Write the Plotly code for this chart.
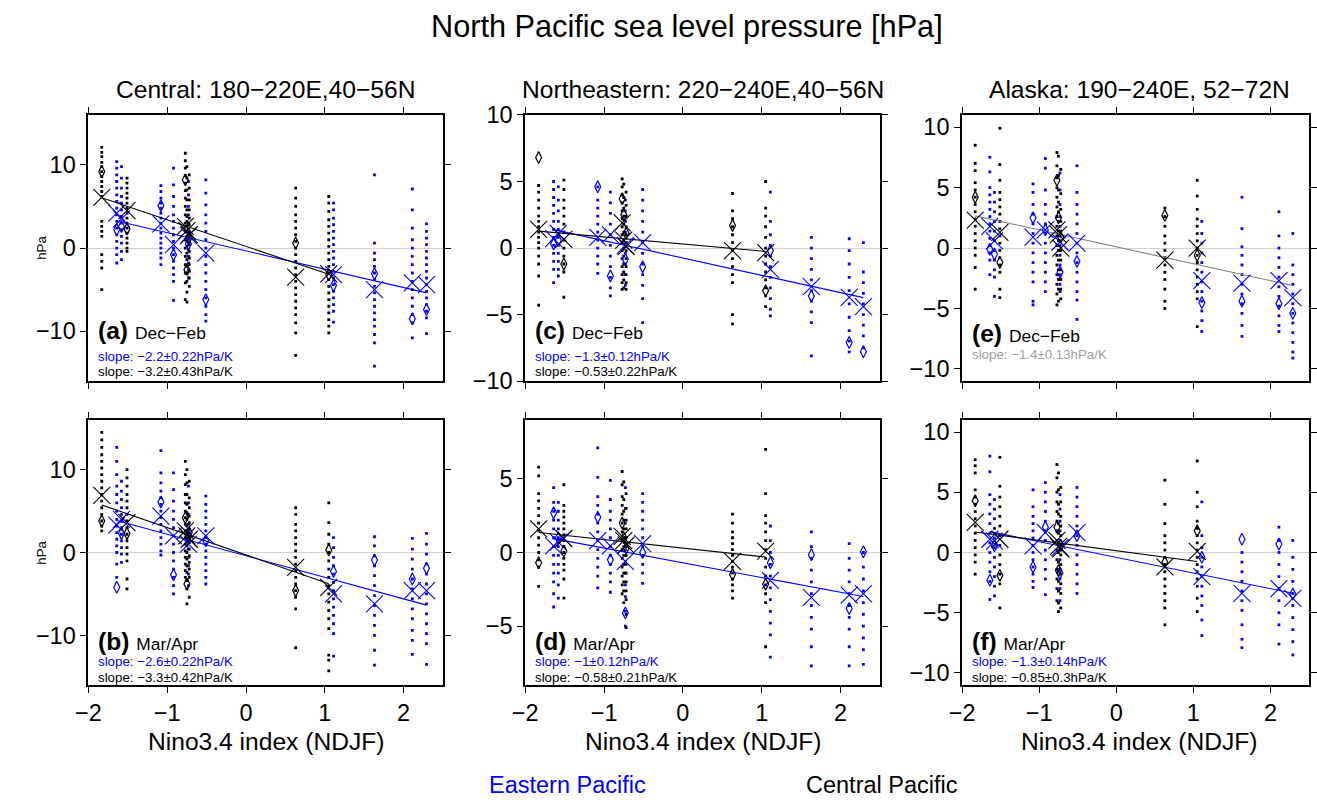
import plotly.graph_objects as go

W, H = 1317, 811              # page / figure size
BORDER = 12                   # border the photograph adds around the window
SX = W / (W + 2 * BORDER)     # resulting shrink of the photograph
SY = H / (H + 2 * BORDER)
FS = 2.0 / (SX + SY)          # font compensation for that shrink
FONT = "Liberation Sans, Arial, sans-serif"
BLUE = "#0000ff"
BLACK = "#000000"
GREY_LINE = "#808080"
GREY_TEXT = "#a0a0a0"

# ---------------- event positions (Nino3.4 index) ----------------
cp_x = [-1.83, -1.51, -0.77, -0.75, -0.72, 0.63, 1.05]
ep_x = [-1.64, -1.58, -1.08, -0.92, -0.73, -0.51, 1.11, 1.63, 2.11, 2.29]

# ---------------- panel (a) Central, Dec-Feb ----------------
a_cp_mean = [6.1, 4.5, 2.6, 2.1, 1.6, -3.5, -3.1]
a_cp_obs = [9.2, 2.3, 8.2, -2.6, 1.3, 0.6, -3.2]
a_cp_members = [
    [12.1, 11.5, 11.0, 10.3, 9.8, 9.2, 8.6, 8.0, 7.4, 6.8, 6.2, 3.2, 2.6, 2.0, 1.4, -0.8, -1.6, -2.4, -5.0],
    [8.4, 7.8, 7.2, 6.6, 6.0, 5.4, 4.8, 4.2, 3.6, 3.0, 2.4, 1.8, 1.2, 0.6, 0.0, -0.4],
    [11.4, 10.5, 9.6, 8.7, 7.8, 6.9, 6.0, 5.0, 4.0, 3.0, 2.0, 1.0, 0.0, -1.0, -2.0, -3.0, -4.2, -6.2],
    [9.8, 8.4, 7.0, 5.8, 4.6, 3.8, 3.2, 2.6, 2.0, 1.4, 0.8, 0.2, -0.6, -1.4, -2.2, -3.0, -4.0, -5.3, -6.5],
    [8.8, 7.2, 5.8, 4.6, 3.6, 2.8, 2.0, 1.2, 0.4, -0.4, -1.2, -2.0, -2.8, -3.6, -4.6],
    [7.2, 6.0, 5.0, 4.0, 3.2, 2.4, 1.6, 0.8, 0.0, -0.8, -1.6, -2.4, -3.2, -4.0, -4.8, -5.6, -6.4, -7.2, -8.0, -9.0, -10.2, -12.9],
    [6.2, 5.4, 4.4, 3.4, 2.6, 1.8, 1.0, 0.2, -0.6, -1.4, -2.2, -3.0, -3.8, -4.6, -5.4, -6.2, -7.0, -7.8, -8.6, -9.4, -10.2],
]
a_ep_mean = [4.2, 3.5, 2.9, 0.4, 1.5, -0.6, -3.2, -5.0, -4.2, -4.4]
a_ep_obs = [2.2, 2.6, 5.1, -0.8, 0.5, -6.2, -4.5, -3.1, -8.5, -7.4]
a_ep_members = [
    [10.4, 9.6, 8.8, 8.0, 7.2, 6.4, 5.6, 4.8, 4.0, 3.2, 2.4, 1.6, 0.8, 0.0, -0.8, -1.8],
    [9.8, 8.4, 7.2, 6.2, 5.4, 4.6, 3.8, 3.0, 2.2, 1.4, 0.6, -0.4, -1.4],
    [7.5, 6.8, 6.0, 5.4, 4.8, 4.2, 3.6, 3.0, 2.4, 1.8, 1.2, 0.6, 0.0, -0.6, -1.2, -2.0],
    [9.6, 7.6, 6.2, 5.0, 4.0, 3.2, 2.4, 1.6, 0.8, 0.0, -0.8, -1.6, -2.4, -3.2, -4.0, -6.3],
    [8.0, 6.4, 5.0, 4.0, 3.0, 2.2, 1.4, 0.6, -0.2, -1.0, -1.8, -2.6, -3.6],
    [8.2, 6.6, 5.2, 4.0, 3.0, 2.0, 1.0, 0.0, -1.0, -2.0, -3.0, -4.0, -5.0, -6.0, -7.0, -8.0, -8.8],
    [5.4, 4.6, 3.6, 2.8, 2.0, 1.2, 0.4, -0.4, -1.2, -2.0, -2.8, -3.6, -4.4, -5.2, -6.0, -6.8, -7.6, -8.9],
    [8.8, 0.6, -0.6, -1.4, -2.2, -3.0, -3.8, -4.6, -5.4, -6.2, -7.0, -7.8, -8.6, -9.4, -10.4, -11.4, -14.2],
    [7.1, 4.6, 2.4, 1.0, 0.0, -1.0, -2.0, -3.0, -4.0, -5.0, -6.0, -7.0, -8.0, -9.0, -10.8],
    [2.9, 2.0, 1.2, 0.4, -0.4, -1.2, -2.0, -2.8, -3.6, -4.4, -5.2, -6.0, -6.8, -7.6, -8.4, -10.3],
]

# ---------------- panel (b) Central, Mar/Apr ----------------
b_cp_mean = [6.9, 3.6, 2.6, 2.0, 1.6, -1.8, -4.2]
b_cp_obs = [3.8, 2.3, 4.2, -3.8, 2.4, -4.6, 0.3]
b_cp_members = [
    [14.5, 13.6, 12.7, 11.8, 11.0, 10.2, 9.4, 8.6, 7.8, 7.0, 6.2, 5.4, 4.6, 3.8, 3.2, 2.6],
    [10.0, 9.0, 8.0, 7.0, 6.2, 5.4, 4.6, 3.8, 3.0, 2.2, 1.4, 0.6, -0.2, -1.0, -3.2, -4.4],
    [11.0, 9.4, 8.2, 7.0, 6.0, 5.0, 4.2, 3.4, 2.6, 1.8, 1.0, 0.2, -0.6, -1.4, -2.2, -3.0],
    [10.0, 8.4, 7.0, 5.8, 4.8, 4.0, 3.2, 2.4, 1.6, 0.8, 0.0, -0.8, -1.6, -2.4, -3.4, -4.4, -6.2],
    [8.6, 6.6, 5.4, 4.4, 3.6, 2.8, 2.0, 1.2, 0.4, -0.4, -1.2, -2.0, -3.0, -5.4],
    [5.4, 4.6, 3.4, 2.6, 1.8, 1.0, 0.2, -0.6, -1.4, -2.2, -3.0, -3.8, -4.6, -5.4, -6.8, -11.5],
    [6.0, 3.6, 2.2, 1.0, 0.0, -1.0, -2.0, -3.0, -4.0, -5.0, -6.0, -7.0, -8.0, -9.2, -12.4, -13.0, -14.3],
]
b_ep_mean = [3.3, 4.0, 4.4, 2.0, 1.0, 2.0, -5.0, -6.2, -4.6, -4.6]
b_ep_obs = [-4.2, 2.3, 6.1, -2.7, 2.0, 1.4, -2.3, -0.9, -3.2, -1.9]
b_ep_members = [
    [12.7, 11.0, 9.4, 8.0, 7.0, 6.0, 5.0, 4.0, 3.2, 2.4, 1.6, 0.8, 0.0, -1.4, -3.0],
    [8.6, 7.4, 6.4, 5.4, 4.6, 3.8, 3.0, 2.2, 1.4, 0.6, -0.2, -1.2],
    [12.3, 9.6, 8.4, 7.4, 6.6, 5.8, 5.0, 4.2, 3.4, 2.6, 1.8, 1.0, 0.2, -0.3],
    [9.6, 7.6, 6.2, 5.0, 4.0, 3.0, 2.0, 1.0, 0.0, -1.0, -2.0, -3.0, -4.0, -5.0],
    [8.0, 6.0, 4.6, 3.4, 2.4, 1.4, 0.4, -0.6, -1.6, -2.6, -4.0],
    [6.8, 5.8, 5.0, 4.2, 3.4, 2.6, 1.8, 1.0, 0.2, -0.6, -1.4, -2.2, -3.0, -3.8],
    [1.8, 0.6, -0.6, -1.6, -2.6, -3.6, -4.6, -5.6, -6.6, -7.6, -8.6, -9.8, -12.5],
    [1.9, 0.8, -0.4, -1.6, -2.8, -4.0, -5.2, -6.4, -7.6, -8.8, -10.0, -11.8, -13.6],
    [1.7, 0.4, -0.8, -2.0, -3.2, -4.4, -5.6, -6.8, -8.0, -9.4, -10.6, -12.3],
    [2.3, 1.0, -0.2, -1.4, -2.6, -3.8, -5.0, -6.2, -7.4, -8.6, -9.8, -11.0, -13.5],
]

# ---------------- panel (c) Northeastern, Dec-Feb ----------------
c_cp_mean = [1.4, 0.65, 1.9, 0.6, 0.1, -0.2, -0.35]
c_cp_obs = [6.8, -1.2, 3.7, 2.5, 1.1, 1.7, -3.2]
c_cp_members = [
    [4.7, 4.2, 3.6, 3.0, 2.4, 2.0, 1.6, 1.2, 0.8, 0.4, 0.0, -0.6, -1.2, -2.1, -4.3],
    [5.1, 4.4, 3.6, 3.0, 2.4, 1.8, 1.2, 0.6, 0.0, -0.6, -1.2, -1.8, -3.7],
    [5.2, 4.6, 4.0, 3.4, 2.8, 2.2, 1.6, 1.0, 0.4, -0.2, -0.8, -1.4, -2.0, -2.6, -3.1],
    [4.8, 3.8, 3.0, 2.4, 1.8, 1.2, 0.6, 0.0, -0.6, -1.2, -1.8, -2.4, -3.0],
    [4.2, 3.2, 2.4, 1.6, 1.0, 0.4, -0.2, -0.8, -1.4, -2.0, -2.6, -3.1],
    [4.1, 2.8, 2.2, 1.6, 1.0, 0.4, -0.2, -0.8, -1.4, -2.0, -2.6, -5.0, -5.7],
    [5.0, 3.0, 2.4, 1.6, 0.8, 0.0, -0.6, -1.2, -1.8, -2.4, -3.0, -3.6, -4.4],
]
c_ep_mean = [0.7, 1.1, 0.8, 1.0, 0.2, 0.4, -1.6, -2.9, -3.7, -4.4]
c_ep_obs = [0.3, 0.6, 4.6, -2.1, -0.85, -1.4, -0.2, -3.6, -7.1, -7.8]
c_ep_members = [
    [5.0, 4.4, 3.8, 3.2, 2.6, 2.0, 1.4, 0.8, 0.2, -0.4, -1.0, -1.6, -2.6],
    [4.6, 3.6, 2.8, 2.0, 1.4, 0.8, 0.2, -0.4, -1.0, -1.6, -2.1],
    [4.6, 3.6, 3.0, 2.4, 1.8, 1.2, 0.6, 0.0, -0.6, -1.2, -1.9],
    [4.2, 3.4, 2.6, 1.8, 1.0, 0.2, -0.6, -1.4, -2.2, -3.0, -3.6],
    [3.6, 2.8, 2.0, 1.2, 0.4, -0.4, -1.2, -2.0, -2.8],
    [4.4, 3.6, 2.8, 2.0, 1.2, 0.4, -0.4, -1.2, -2.0, -2.8, -3.8, -5.6],
    [4.2, 2.0, 1.0, 0.2, -0.6, -1.4, -2.2, -3.0, -3.8, -4.6, -5.1],
    [0.8, 0.0, -0.8, -1.6, -2.4, -3.2, -4.0, -4.8, -5.6, -8.1],
    [0.7, -0.2, -1.2, -2.2, -3.2, -4.2, -5.2, -6.2, -7.0, -7.8],
    [0.4, -1.8, -2.6, -3.4, -4.2, -5.0, -5.8, -6.6, -7.5],
]

# ---------------- panel (d) Northeastern, Mar/Apr ----------------
d_cp_mean = [1.6, 0.95, 1.1, 0.8, 0.5, -0.6, 0.1]
d_cp_obs = [-0.7, 0.1, 2.0, 1.0, 0.3, -1.5, -2.15]
d_cp_members = [
    [5.8, 5.2, 4.0, 3.5, 3.0, 2.5, 2.0, 1.5, 1.0, 0.5, 0.0, -0.5, -1.0, -2.3],
    [4.6, 3.2, 2.8, 2.4, 2.0, 1.6, 1.2, 0.8, 0.4, 0.0, -0.4, -0.8, -1.2, -1.8, -3.1],
    [5.5, 4.6, 3.8, 3.2, 2.6, 2.0, 1.4, 0.8, 0.2, -0.4, -1.0, -1.6, -2.2, -2.8],
    [4.8, 3.6, 2.8, 2.2, 1.6, 1.0, 0.4, -0.2, -0.8, -1.4, -2.0, -2.6, -3.4],
    [4.0, 3.0, 2.2, 1.6, 1.0, 0.4, -0.2, -0.8, -1.4, -2.0, -2.6, -3.2, -4.2, -5.1],
    [2.6, 2.0, 1.4, 1.0, 0.6, 0.2, -0.2, -0.6, -1.0, -1.4, -1.8, -2.2, -2.6, -3.1],
    [7.0, 4.0, 2.5, 2.0, 1.4, 0.8, 0.2, -0.4, -1.0, -1.6, -2.2, -2.8, -3.4, -6.4],
]
d_ep_mean = [0.45, 0.7, 0.8, 0.45, -0.6, 0.6, -1.9, -3.05, -2.9, -2.8]
d_ep_obs = [2.7, 1.0, 2.4, -0.5, -4.1, 0.0, -0.7, -0.15, -3.8, 0.05]
d_ep_members = [
    [4.4, 3.4, 2.8, 2.2, 1.6, 1.0, 0.4, -0.2, -0.8, -1.4, -2.0, -2.8, -3.7],
    [3.4, 2.8, 2.2, 1.6, 1.0, 0.4, -0.2, -0.8, -1.4, -2.2, -3.1],
    [7.1, 5.1, 3.8, 3.2, 2.6, 2.0, 1.4, 0.8, 0.2, -0.4, -1.0, -1.6, -2.4],
    [4.9, 3.6, 2.8, 2.2, 1.6, 1.0, 0.4, -0.2, -0.8, -1.4, -2.0, -2.7],
    [4.4, 3.0, 2.0, 1.0, 0.2, -0.6, -1.4, -2.2, -3.0, -4.0, -5.0],
    [4.0, 3.4, 2.8, 2.2, 1.6, 1.0, 0.4, -0.2, -0.8, -1.4, -2.1],
    [1.8, 0.8, 0.0, -0.8, -1.6, -2.4, -3.2, -4.0, -4.8, -5.6, -7.1],
    [1.4, 0.4, -0.4, -1.2, -2.0, -2.8, -3.6, -4.4, -5.2, -6.4, -7.7],
    [0.6, -0.4, -1.2, -2.0, -2.8, -3.6, -4.4, -5.2, -6.4, -7.7],
    [0.0, -1.0, -1.8, -2.6, -3.4, -4.2, -5.0, -5.8, -6.6, -7.6],
]

# ---------------- panel (e) Alaska, Dec-Feb ----------------
e_cp_mean = [2.3, 1.3, 1.5, 1.1, 0.0, -1.0, 0.0]
e_cp_obs = [4.2, -1.2, 5.6, 2.5, 0.9, 2.7, -0.6]
e_cp_members = [
    [8.5, 7.0, 6.4, 5.4, 4.8, 4.2, 3.6, 3.0, 2.4, 1.8, 1.2, 0.6, 0.0, -0.6, -1.6, -3.4],
    [9.9, 6.9, 5.6, 4.6, 4.0, 3.4, 2.8, 2.2, 1.6, 1.0, 0.4, -0.2, -0.8, -1.4, -2.0, -3.4, -4.1],
    [7.9, 6.8, 5.8, 5.0, 4.2, 3.4, 2.6, 1.8, 1.0, 0.2, -0.6, -1.4, -2.2, -3.0, -3.8, -4.7],
    [7.6, 6.0, 4.8, 3.8, 3.0, 2.2, 1.4, 0.6, -0.2, -1.0, -1.8, -2.6, -3.4, -4.4],
    [6.5, 4.5, 3.2, 2.2, 1.4, 0.6, -0.2, -1.0, -1.8, -2.6, -3.4, -4.2],
    [3.3, 2.6, 1.8, 1.0, 0.4, -0.2, -0.8, -1.4, -2.0, -2.6, -3.4, -4.4, -5.0],
    [5.6, 4.3, 3.2, 2.4, 1.8, 1.2, 0.6, 0.0, -0.6, -1.2, -1.8, -2.4, -3.0, -3.6, -4.2, -6.5],
]
e_ep_mean = [1.8, 0.6, 0.9, 1.5, 0.5, 0.4, -2.7, -2.9, -2.7, -4.1]
e_ep_obs = [-0.1, -0.5, 2.5, 1.5, -2.0, -1.1, -4.5, -4.4, -4.6, -5.4]
e_ep_members = [
    [7.5, 6.3, 5.0, 4.4, 3.8, 3.2, 2.6, 2.0, 1.4, 0.8, 0.2, -0.4, -1.0, -2.2],
    [4.6, 3.8, 3.0, 2.2, 1.4, 0.6, -0.2, -1.0, -1.8, -2.4, -4.0],
    [5.3, 4.6, 3.6, 2.8, 2.0, 1.2, 0.4, -0.4, -1.2, -2.0, -2.8, -4.4, -4.7],
    [7.4, 6.6, 4.8, 3.6, 2.8, 2.0, 1.2, 0.4, -0.4, -1.2, -2.0, -2.8, -3.6],
    [6.2, 4.8, 3.6, 2.6, 1.8, 1.0, 0.2, -0.6, -1.4, -2.2, -3.0, -3.6],
    [6.8, 4.6, 3.6, 2.8, 2.0, 1.2, 0.4, -0.4, -1.2, -2.0, -2.8, -3.6, -4.3, -5.9],
    [2.2, 1.2, 0.4, -0.4, -1.2, -2.0, -2.8, -3.6, -4.4, -5.2, -6.0, -6.9],
    [4.2, 1.6, 0.1, -0.6, -1.4, -2.2, -3.0, -3.8, -4.6, -5.4, -6.4, -7.3],
    [3.0, 1.0, 0.0, -0.8, -1.6, -2.4, -3.2, -4.0, -4.8, -5.6, -6.4, -6.9],
    [1.2, -1.4, -2.2, -3.0, -3.8, -4.6, -5.4, -6.2, -7.0, -7.8, -8.6, -9.1],
]

# ---------------- panel (f) Alaska, Mar/Apr ----------------
f_cp_mean = [2.5, 1.1, 1.0, 0.5, 0.3, -1.2, 0.1]
f_cp_obs = [4.3, -1.9, 2.1, -1.5, 0.6, -0.8, 1.8]
f_cp_members = [
    [7.7, 7.2, 6.6, 5.2, 4.6, 4.0, 3.4, 2.8, 2.2, 1.6, 1.0, 0.4, -0.2, -0.8, -1.8],
    [7.9, 5.5, 4.6, 3.8, 3.0, 2.2, 1.4, 0.6, -0.2, -1.0, -1.8, -2.6, -4.6],
    [7.3, 6.2, 5.0, 4.2, 3.4, 2.6, 1.8, 1.0, 0.2, -0.6, -1.4, -2.2, -3.0, -4.0],
    [6.6, 5.2, 4.0, 3.2, 2.4, 1.6, 0.8, 0.0, -0.8, -1.6, -2.4, -3.2, -4.2, -4.9],
    [5.4, 4.2, 3.0, 2.2, 1.4, 0.6, -0.2, -1.0, -1.8, -2.6, -3.4, -4.6],
    [6.0, 4.0, 2.4, 1.4, 0.8, 0.2, -0.4, -1.0, -1.6, -2.2, -2.8, -3.4, -4.0, -4.6, -6.0],
    [7.6, 5.0, 3.8, 2.6, 2.0, 1.4, 0.8, 0.2, -0.4, -1.0, -1.6, -2.2, -2.8, -3.8, -4.9],
]
f_ep_mean = [1.1, 0.95, 0.55, 1.65, 0.4, 1.65, -2.0, -3.4, -3.0, -3.8]
f_ep_obs = [-2.3, 0.55, -1.2, 2.1, -1.7, 1.4, -0.4, 1.1, 0.7, -3.45]
f_ep_members = [
    [8.0, 6.7, 4.8, 4.0, 3.2, 2.4, 1.6, 0.8, 0.0, -0.8, -1.6, -2.4, -3.9],
    [4.4, 3.6, 2.8, 2.0, 1.2, 0.4, -0.4, -1.2, -2.0, -2.8, -3.6],
    [5.2, 3.8, 3.0, 2.4, 1.8, 1.2, 0.6, 0.0, -0.6, -1.2, -1.8, -2.4, -2.9],
    [5.8, 5.0, 4.2, 3.4, 2.6, 1.8, 1.0, 0.2, -0.6, -1.4, -2.2, -3.5],
    [4.8, 3.6, 2.6, 1.8, 1.0, 0.2, -0.6, -1.4, -2.2, -3.0, -4.0],
    [5.4, 4.6, 3.8, 3.0, 2.2, 1.4, 0.6, -0.2, -1.0, -1.8, -2.6, -3.4],
    [4.2, 1.4, 0.4, -0.4, -1.2, -2.0, -2.8, -3.6, -4.4, -5.6, -6.9],
    [0.0, -0.8, -1.6, -2.4, -3.2, -4.0, -4.8, -6.0, -7.2, -7.9],
    [2.1, 1.0, 0.0, -1.0, -2.0, -3.0, -4.0, -5.0, -6.0, -7.6],
    [1.0, -0.4, -1.4, -2.4, -3.4, -4.4, -5.4, -6.4, -7.4, -8.5],
]

# ---------------- regression fits (order a..f) ----------------
ep_slope = [-2.2, -2.6, -1.3, -1.0, None, -1.3]
ep_icpt = [-0.35, -0.4, -0.75, -0.7, None, -0.4]
cp_slope = [-3.2, -3.3, -0.53, -0.58, None, -0.85]
cp_icpt = [0.2, -0.3, 0.3, 0.3, None, 0.15]
all_slope_e = -1.4
all_icpt_e = 0.1

ep_slope_text = ["slope: \u22122.2\u00b10.22hPa/K", "slope: \u22122.6\u00b10.22hPa/K",
                 "slope: \u22121.3\u00b10.12hPa/K", "slope: \u22121\u00b10.12hPa/K",
                 "", "slope: \u22121.3\u00b10.14hPa/K"]
cp_slope_text = ["slope: \u22123.2\u00b10.43hPa/K", "slope: \u22123.3\u00b10.42hPa/K",
                 "slope: \u22120.53\u00b10.22hPa/K", "slope: \u22120.58\u00b10.21hPa/K",
                 "", "slope: \u22120.85\u00b10.3hPa/K"]
all_slope_text_e = "slope: \u22121.4\u00b10.13hPa/K"

panel_letters = ["a", "b", "c", "d", "e", "f"]
season_names = ["Dec\u2212Feb", "Mar/Apr"]
column_titles = ["Central: 180\u2212220E,40\u221256N", "Northeastern: 220\u2212240E,40\u221256N",
                 "Alaska: 190\u2212240E, 52\u221272N"]
y_ranges = [[-16, 16], [-16, 16], [-10, 10], [-9, 9], [-11, 11], [-11, 11]]
y_ticks = [[-10, 0, 10], [-10, 0, 10], [-10, -5, 0, 5, 10], [-5, 0, 5],
           [-10, -5, 0, 5, 10], [-10, -5, 0, 5, 10]]
x_ticks = [-2, -1, 0, 1, 2]

panel_data = [
    (a_cp_mean, a_cp_obs, a_cp_members, a_ep_mean, a_ep_obs, a_ep_members),
    (b_cp_mean, b_cp_obs, b_cp_members, b_ep_mean, b_ep_obs, b_ep_members),
    (c_cp_mean, c_cp_obs, c_cp_members, c_ep_mean, c_ep_obs, c_ep_members),
    (d_cp_mean, d_cp_obs, d_cp_members, d_ep_mean, d_ep_obs, d_ep_members),
    (e_cp_mean, e_cp_obs, e_cp_members, e_ep_mean, e_ep_obs, e_ep_members),
    (f_cp_mean, f_cp_obs, f_cp_members, f_ep_mean, f_ep_obs, f_ep_members),
]

# ---------------- layout geometry (target picture pixels) ----------------
col_px = [(87, 441), (523, 877), (959, 1313)]
row_px = [(114, 381), (420, 686)]


def px_x(t):
    page = t / SX - BORDER
    return min(1.0, max(0.0, page / W))


def px_y(t):
    page = t / SY - BORDER
    return min(1.0, max(0.0, 1 - page / H))


def fsz(s):
    return round(s * FS, 1)


fig = go.Figure()
annotations = []
layout_axes = {}

for i in range(6):
    col, row = i // 2, i % 2
    n = i + 1
    xa = "x" if n == 1 else f"x{n}"
    ya = "y" if n == 1 else f"y{n}"
    cp_mean, cp_obs, cp_mem, ep_mean, ep_obs, ep_mem = panel_data[i]

    for xs, mem, colr in ((ep_x, ep_mem, BLUE), (cp_x, cp_mem, BLACK)):
        dx, dy = [], []
        for xv, vals in zip(xs, mem):
            dx += [xv] * len(vals)
            dy += vals
        fig.add_trace(go.Scatter(x=dx, y=dy, mode="markers", xaxis=xa, yaxis=ya,
                                 marker=dict(symbol="square", size=2.8, color=colr,
                                             line=dict(width=0)),
                                 showlegend=False, hoverinfo="skip"))

    if i == 4:
        allx = cp_x + ep_x
        x0, x1 = min(allx), max(allx)
        fig.add_trace(go.Scatter(x=[x0, x1],
                                 y=[all_icpt_e + all_slope_e * x0, all_icpt_e + all_slope_e * x1],
                                 mode="lines", xaxis=xa, yaxis=ya,
                                 line=dict(color=GREY_LINE, width=1.1),
                                 showlegend=False, hoverinfo="skip"))
    else:
        for xs, s, b, colr in ((ep_x, ep_slope[i], ep_icpt[i], BLUE),
                               (cp_x, cp_slope[i], cp_icpt[i], BLACK)):
            x0, x1 = min(xs), max(xs)
            fig.add_trace(go.Scatter(x=[x0, x1], y=[b + s * x0, b + s * x1],
                                     mode="lines", xaxis=xa, yaxis=ya,
                                     line=dict(color=colr, width=1.1),
                                     showlegend=False, hoverinfo="skip"))

    for xs, obs, mean, colr in ((ep_x, ep_obs, ep_mean, BLUE), (cp_x, cp_obs, cp_mean, BLACK)):
        fig.add_trace(go.Scatter(x=xs, y=obs, mode="markers", xaxis=xa, yaxis=ya,
                                 marker=dict(symbol="diamond-tall-open", size=8.5, color=colr,
                                             line=dict(width=1.2, color=colr)),
                                 showlegend=False, hoverinfo="skip"))
        fig.add_trace(go.Scatter(x=xs, y=mean, mode="markers", xaxis=xa, yaxis=ya,
                                 marker=dict(symbol="x-thin-open", size=17, color=colr,
                                             line=dict(width=1.1, color=colr)),
                                 showlegend=False, hoverinfo="skip"))

    xd = [px_x(col_px[col][0]), px_x(col_px[col][1])]
    yd = [px_y(row_px[row][1]), px_y(row_px[row][0])]
    layout_axes["xaxis" if n == 1 else f"xaxis{n}"] = dict(
        domain=xd, anchor=ya, range=[-2, 2.5], tickvals=x_ticks,
        showticklabels=(row == 1), ticks="outside", ticklen=6, tickwidth=1,
        tickcolor="black", showline=True, linecolor="black", linewidth=1.8,
        mirror="ticks", showgrid=False, zeroline=False,
        tickfont=dict(family=FONT, size=fsz(23), color="black"))
    layout_axes["yaxis" if n == 1 else f"yaxis{n}"] = dict(
        domain=yd, anchor=xa, range=y_ranges[i], tickvals=y_ticks[i],
        ticks="outside", ticklen=6, tickwidth=1, tickcolor="black",
        showline=True, linecolor="black", linewidth=1.8, mirror="ticks",
        showgrid=False, zeroline=True, zerolinecolor="#d0d0d0", zerolinewidth=1,
        tickfont=dict(family=FONT, size=fsz(23), color="black"))

    top = row == 0
    lab_y = 0.19 if top else 0.165
    s1_y = 0.092 if top else 0.088
    s2_y = 0.035 if top else 0.03
    if i == 4:
        lab_y, s1_y = 0.18, 0.10
    annotations.append(dict(
        xref=f"{xa} domain", yref=f"{ya} domain", x=0.022, y=lab_y,
        xanchor="left", yanchor="middle", showarrow=False,
        text=(f"<b>({panel_letters[i]})</b> "
              f"<span style='font-size:{fsz(17)}px'>{season_names[row]}</span>"),
        font=dict(family=FONT, size=fsz(24), color="black")))
    if i == 4:
        annotations.append(dict(
            xref=f"{xa} domain", yref=f"{ya} domain", x=0.022, y=s1_y,
            xanchor="left", yanchor="middle", showarrow=False, text=all_slope_text_e,
            font=dict(family=FONT, size=fsz(13), color=GREY_TEXT)))
    else:
        annotations.append(dict(
            xref=f"{xa} domain", yref=f"{ya} domain", x=0.022, y=s1_y,
            xanchor="left", yanchor="middle", showarrow=False, text=ep_slope_text[i],
            font=dict(family=FONT, size=fsz(13), color=BLUE)))
        annotations.append(dict(
            xref=f"{xa} domain", yref=f"{ya} domain", x=0.022, y=s2_y,
            xanchor="left", yanchor="middle", showarrow=False, text=cp_slope_text[i],
            font=dict(family=FONT, size=fsz(13), color=BLACK)))

annotations.append(dict(xref="paper", yref="paper", x=px_x(684), y=px_y(25),
                        xanchor="center", yanchor="middle", showarrow=False,
                        text="North Pacific sea level pressure [hPa]",
                        font=dict(family=FONT, size=fsz(30), color="black")))
for (c0, c1), t in zip(col_px, column_titles):
    annotations.append(dict(xref="paper", yref="paper", x=px_x((c0 + c1) / 2), y=px_y(88),
                            xanchor="center", yanchor="middle", showarrow=False, text=t,
                            font=dict(family=FONT, size=fsz(24), color="black")))
for (c0, c1) in col_px:
    annotations.append(dict(xref="paper", yref="paper", x=px_x((c0 + c1) / 2), y=px_y(743),
                            xanchor="center", yanchor="middle", showarrow=False,
                            text="Nino3.4 index (NDJF)",
                            font=dict(family=FONT, size=fsz(24), color="black")))
for cy in [247, 553]:
    annotations.append(dict(xref="paper", yref="paper", x=px_x(40), y=px_y(cy),
                            xanchor="center", yanchor="middle", showarrow=False,
                            text="hPa", textangle=-90,
                            font=dict(family=FONT, size=fsz(13), color="black")))
annotations.append(dict(xref="paper", yref="paper", x=px_x(565), y=px_y(786),
                        xanchor="center", yanchor="middle", showarrow=False,
                        text="Eastern Pacific", font=dict(family=FONT, size=fsz(23), color=BLUE)))
annotations.append(dict(xref="paper", yref="paper", x=px_x(879), y=px_y(786),
                        xanchor="center", yanchor="middle", showarrow=False,
                        text="Central Pacific", font=dict(family=FONT, size=fsz(23), color=BLACK)))

fig.update_layout(
    width=W, height=H, autosize=False,
    margin=dict(l=0, r=0, t=0, b=0),
    paper_bgcolor="white", plot_bgcolor="white",
    font=dict(family=FONT, color="black"),
    showlegend=False,
    annotations=annotations,
    **layout_axes,
)

# make the page exactly the figure: no margins / paddings around the graph div
page_fix = """
var els = [document.documentElement, document.body];
var gd = document.getElementById('{plot_id}');
if (gd && gd.parentElement) { els.push(gd.parentElement); }
els.forEach(function (e) {
    e.style.setProperty('margin', '0', 'important');
    e.style.setProperty('padding', '0', 'important');
    e.style.setProperty('border', '0', 'important');
});
document.body.style.setProperty('overflow', 'hidden', 'important');
"""

fig.write_html("out.html", config={"displayModeBar": False}, post_script=page_fix)
